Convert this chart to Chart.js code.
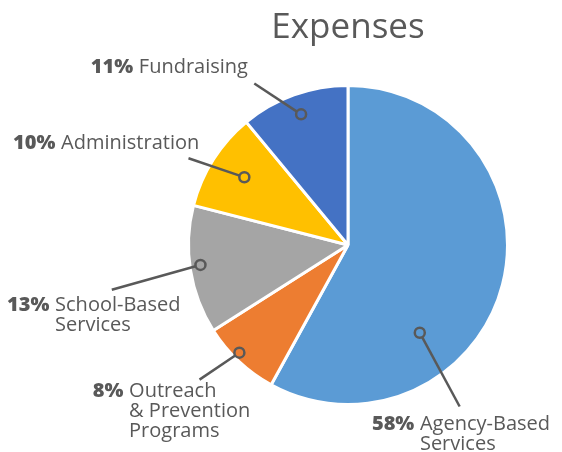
<!DOCTYPE html>
<html>
<head>
<meta charset="utf-8">
<script src="https://cdn.jsdelivr.net/npm/chart.js@4.4.1/dist/chart.umd.min.js"></script>
<style>
html,body{margin:0;padding:0;background:#fff;}
#wrap{width:562px;height:452px;position:relative;}
</style>
</head>
<body>
<div id="wrap"><canvas id="c" width="562" height="452"></canvas></div>
<script>
const title = "Expenses";
const categories = ["Agency-Based Services", "Outreach & Prevention Programs", "School-Based Services", "Administration", "Fundraising"];
const values = [58, 8, 13, 10, 11];
const labelLines = [
  ["Agency-Based", "Services"],
  ["Outreach", "& Prevention", "Programs"],
  ["School-Based", "Services"],
  ["Administration"],
  ["Fundraising"]
];
const colors = ["#5B9BD5", "#ED7D31", "#A5A5A5", "#FFC000", "#4472C4"];

// label layout, in units of pie radius relative to pie centre
const layout = [
  {dot:[0.45,0.55],   end:[0.7,1.0125],   text:[0.15,1.125]},
  {dot:[-0.681,0.675],end:[-0.931,0.844], text:[-1.6,0.919]},
  {dot:[-0.925,0.125],end:[-1.481,0.281], text:[-2.1375,0.375]},
  {dot:[-0.65,-0.425],end:[-1.0,-0.544],  text:[-2.1,-0.6375]},
  {dot:[-0.294,-0.819],end:[-0.5875,-1.0125],text:[-1.6125,-1.1125]}
];

const labelPlugin = {
  id: 'calloutLabels',
  afterDraw(chart) {
    const ctx = chart.ctx;
    const meta = chart.getDatasetMeta(0);
    const arc0 = meta.data[0];
    const cx = arc0.x, cy = arc0.y, R = arc0.outerRadius;
    ctx.save();
    // title
    ctx.fillStyle = '#595959';
    ctx.font = '35px "Open Sans"';
    ctx.textAlign = 'center';
    ctx.textBaseline = 'alphabetic';
    ctx.fillText(title, cx, 38);

    const fs = 20, lh = 20;
    values.forEach((v, i) => {
      const L = layout[i];
      const dx = cx + L.dot[0]*R, dy = cy + L.dot[1]*R;
      const ex = cx + L.end[0]*R, ey = cy + L.end[1]*R;
      const r = 5;
      const ang = Math.atan2(ey - dy, ex - dx);
      ctx.strokeStyle = '#595959';
      ctx.lineWidth = 2.5;
      ctx.beginPath();
      ctx.moveTo(dx + Math.cos(ang)*r, dy + Math.sin(ang)*r);
      ctx.lineTo(ex, ey);
      ctx.stroke();
      ctx.beginPath();
      ctx.arc(dx, dy, r, 0, Math.PI*2);
      ctx.stroke();

      const tx = cx + L.text[0]*R, ty = cy + L.text[1]*R;
      ctx.textAlign = 'left';
      ctx.textBaseline = 'middle';
      ctx.fillStyle = '#595959';
      const pct = v + '%';
      ctx.font = '800 ' + fs + 'px "Open Sans"';
      ctx.fillText(pct, tx, ty);
      const pw = ctx.measureText(pct).width + fs*0.28;
      ctx.font = '400 ' + fs + 'px "Open Sans"';
      labelLines[i].forEach((ln, k) => {
        ctx.fillText(ln, tx + pw, ty + k*lh);
      });
    });
    ctx.restore();
  }
};

new Chart(document.getElementById('c'), {
  type: 'pie',
  data: {
    labels: categories,
    datasets: [{
      data: values,
      backgroundColor: colors,
      borderColor: '#ffffff',
      borderWidth: 3
    }]
  },
  options: {
    responsive: false,
    animation: false,
    layout: {padding: {left: 187, right: 53, top: 84, bottom: 46}},
    plugins: {legend: {display: false}, tooltip: {enabled: false}, title: {display: false}}
  },
  plugins: [labelPlugin]
});
</script>
</body>
</html>
